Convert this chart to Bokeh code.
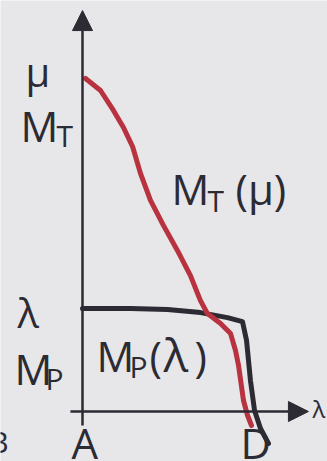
from bokeh.plotting import figure
from bokeh.models import Range1d, Arrow, NormalHead, Label
from bokeh.embed import file_html
from bokeh.resources import INLINE

# Torque curves: driving torque M_T(mu) and load torque M_P(lambda)
# (x: speed from A to D, y: torque)
mt_x = [0.18, 1.06, 1.82, 2.41, 2.95, 3.41, 4.00, 4.76, 5.59, 6.35,
        6.94, 7.35, 8.12, 8.71, 9.00, 9.18, 9.47, 9.71, 9.94]
mt_y = [10.00, 9.64, 9.04, 8.53, 7.95, 7.15, 6.34, 5.59, 4.83, 4.08,
        3.33, 2.94, 2.64, 2.34, 1.83, 1.38, 0.33, -0.12, -0.42]

mp_x = [0.00, 2.82, 5.00, 6.94, 8.53, 9.41, 9.65, 9.88, 10.12, 10.47, 10.94]
mp_y = [3.09, 3.09, 3.06, 2.97, 2.82, 2.70, 2.13, 0.93, 0.03, -0.51, -0.96]

INK = "#2c2b33"
RED = "#b8323f"
BG = "#e7e6e8"
FONT = "Open Sans"
Y_PX = 33.3  # pixels per torque unit

p = figure(width=327, height=461, output_backend="svg", toolbar_location=None,
           x_range=Range1d(-82 / 17, 245 / 17), y_range=Range1d(-50 / Y_PX, 411 / Y_PX),
           min_border=0, background_fill_color=BG, border_fill_color=BG)
p.axis.visible = False
p.grid.visible = False
p.outline_line_color = None

# axes with arrow heads
p.add_layout(Arrow(end=NormalHead(size=20, fill_color=INK, line_color=INK),
                   x_start=0, y_start=-0.42, x_end=0, y_end=12.04,
                   line_color=INK, line_width=2.5))
p.add_layout(Arrow(end=NormalHead(size=20, fill_color=INK, line_color=INK),
                   x_start=-0.71, y_start=0, x_end=13.29, y_end=0,
                   line_color=INK, line_width=2.5))

p.line(mp_x, mp_y, line_color=INK, line_width=5, line_join="round", line_cap="round")
p.line(mt_x, mt_y, line_color=RED, line_width=5, line_join="round", line_cap="round")


def lab(x, y, text, size=42, align="left"):
    # lift the label so that its baseline sits on y
    lift = 0.4 * size / Y_PX
    p.add_layout(Label(x=x, y=y + lift, text=text, text_font=FONT,
                       text_font_size=f"{size}px", text_color=INK,
                       text_align=align, text_baseline="alphabetic"))


# left-hand axis labels
lab(-3.35, 9.73, "μ", 40)
lab(-3.65, 8.08, "M")
lab(-1.53, 7.93, "T", 30)
lab(-3.82, 2.49, "λ", 40)
lab(-4.00, 0.78, "M")
lab(-2.18, 0.63, "P", 30)

# curve names
lab(5.24, 6.19, "M")
lab(7.35, 5.98, "T", 30)
lab(9.00, 6.19, "(μ)")
lab(0.82, 1.17, "M")
lab(2.76, 0.99, "P", 30)
lab(3.94, 1.17, "(")
lab(4.76, 1.17, "λ", 46)
lab(6.59, 1.17, ")")

# points on the speed axis
lab(-0.65, -1.44, "A")
lab(9.29, -1.44, "D")
lab(13.53, -0.21, "λ", 24)
lab(-4.35, -1.26, "B", 30, "right")

open("out.html", "w").write(file_html(p, INLINE))
